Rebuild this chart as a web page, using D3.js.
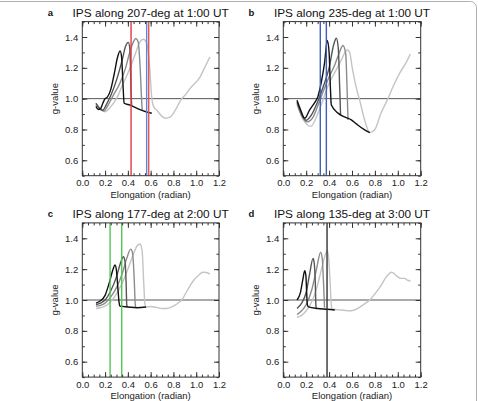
<!DOCTYPE html>
<html><head><meta charset="utf-8">
<script src="https://d3js.org/d3.v7.min.js"></script>
<style>html,body{margin:0;padding:0;background:#fff;}svg{display:block;font-family:"Liberation Sans",Arial,sans-serif;}</style>
</head><body>
<svg id="chart" width="478" height="401"></svg>
<script>
// ---------- data ----------
const xTicks = [0.0, 0.2, 0.4, 0.6, 0.8, 1.0, 1.2];
const yTicks = [0.6, 0.8, 1.0, 1.2, 1.4];
const panelLetters = ["a", "b", "c", "d"];
const panelTitles = ["IPS along 207-deg at 1:00 UT", "IPS along 235-deg at 1:00 UT",
                     "IPS along 177-deg at 2:00 UT", "IPS along 135-deg at 3:00 UT"];
const referenceLevel = 1.0;

// panel a curves [elongation, g]
const pa1 = [[0.12,0.95],[0.14,0.93],[0.16,0.935],[0.18,0.97],[0.2,1.0],[0.22,1.01],[0.25,1.06],[0.28,1.16],[0.31,1.27],[0.332,1.31],[0.345,1.27],[0.358,1.08],[0.367,0.97],[0.42,0.958],[0.49,0.933],[0.58,0.91],[0.61,0.905]];
const pa2 = [[0.12,0.97],[0.15,0.94],[0.18,0.925],[0.21,0.96],[0.25,1.02],[0.3,1.12],[0.35,1.25],[0.38,1.34],[0.404,1.365],[0.418,1.32],[0.428,1.05],[0.433,0.955]];
const pa3 = [[0.12,0.97],[0.16,0.93],[0.19,0.92],[0.22,0.95],[0.27,1.02],[0.33,1.1],[0.38,1.2],[0.42,1.31],[0.45,1.37],[0.47,1.39],[0.49,1.37],[0.508,1.2],[0.52,1.0],[0.526,0.925]];
const pa4 = [[0.12,0.96],[0.16,0.93],[0.2,0.915],[0.24,0.94],[0.3,1.0],[0.36,1.1],[0.42,1.2],[0.47,1.3],[0.5,1.36],[0.536,1.385],[0.565,1.36],[0.59,1.22],[0.608,1.02],[0.625,0.95],[0.66,0.92],[0.7,0.885],[0.73,0.873],[0.77,0.88],[0.82,0.93],[0.873,1.0],[0.9,1.02],[0.95,1.07],[1.033,1.14],[1.08,1.21],[1.12,1.27]];
const paVertical = [0.428, 0.565, 0.583];

// panel b curves
const pb1 = [[0.12,0.99],[0.15,0.93],[0.187,0.873],[0.23,0.927],[0.27,0.97],[0.302,1.013],[0.33,1.1],[0.36,1.23],[0.384,1.377],[0.4,1.3],[0.412,1.06],[0.419,0.96],[0.478,0.906],[0.54,0.88],[0.594,0.862],[0.638,0.836],[0.711,0.797],[0.755,0.78]];
const pb2 = [[0.12,0.98],[0.16,0.9],[0.2,0.86],[0.25,0.9],[0.3,0.98],[0.35,1.08],[0.4,1.2],[0.44,1.35],[0.463,1.392],[0.48,1.33],[0.493,1.06],[0.5,0.9]];
const pb3 = [[0.12,0.97],[0.16,0.89],[0.21,0.85],[0.26,0.88],[0.3,0.95],[0.35,1.05],[0.4,1.14],[0.45,1.22],[0.49,1.3],[0.521,1.345],[0.545,1.29],[0.558,1.04],[0.565,0.862]];
const pb4 = [[0.12,0.96],[0.17,0.87],[0.24,0.82],[0.3,0.9],[0.35,1.0],[0.4,1.1],[0.45,1.17],[0.5,1.24],[0.559,1.316],[0.58,1.3],[0.6,1.21],[0.638,1.07],[0.667,0.99],[0.711,0.86],[0.755,0.78],[0.8,0.8],[0.85,0.9],[0.914,1.0],[0.96,1.08],[1.02,1.17],[1.07,1.23],[1.11,1.29]];
const pbVertical = [0.323, 0.376];

// panel c curves
const pc1 = [[0.12,0.98],[0.15,0.99],[0.2,1.03],[0.24,1.12],[0.27,1.2],[0.287,1.227],[0.3,1.19],[0.312,1.08],[0.322,0.99],[0.33,0.96],[0.4,0.955],[0.48,0.95],[0.56,0.955]];
const pc2 = [[0.12,0.97],[0.16,0.98],[0.2,1.0],[0.25,1.06],[0.3,1.15],[0.34,1.25],[0.36,1.28],[0.375,1.25],[0.385,1.1],[0.39,0.97],[0.395,0.955]];
const pc3 = [[0.12,0.96],[0.16,0.965],[0.2,0.98],[0.25,1.02],[0.3,1.08],[0.35,1.17],[0.39,1.27],[0.425,1.33],[0.44,1.31],[0.455,1.15],[0.465,0.97],[0.47,0.955]];
const pc4 = [[0.12,0.945],[0.16,0.95],[0.2,0.96],[0.25,0.99],[0.3,1.04],[0.35,1.11],[0.4,1.2],[0.45,1.3],[0.48,1.35],[0.507,1.363],[0.525,1.32],[0.54,1.1],[0.55,0.97],[0.56,0.955],[0.6,0.958],[0.65,0.952],[0.7,0.945],[0.74,0.945],[0.8,0.96],[0.85,0.985],[0.873,1.0],[0.92,1.06],[0.97,1.12],[1.02,1.16],[1.06,1.18],[1.09,1.178],[1.12,1.168]];
const pcVertical = [0.244, 0.346];

// panel d curves
const pd1 = [[0.12,1.0],[0.15,1.05],[0.17,1.13],[0.187,1.19],[0.197,1.16],[0.204,1.05],[0.21,0.97],[0.22,0.955],[0.3,0.945],[0.384,0.94],[0.45,0.935]];
const pd2 = [[0.12,0.945],[0.16,0.98],[0.2,1.05],[0.23,1.17],[0.26,1.27],[0.27,1.24],[0.28,1.1],[0.285,0.96],[0.29,0.95]];
const pd3 = [[0.12,0.905],[0.16,0.93],[0.2,0.97],[0.25,1.07],[0.29,1.2],[0.326,1.31],[0.34,1.27],[0.352,1.1],[0.36,0.95]];
const pd4 = [[0.12,0.888],[0.16,0.9],[0.2,0.93],[0.25,0.99],[0.3,1.1],[0.34,1.22],[0.37,1.3],[0.384,1.32],[0.395,1.28],[0.41,1.1],[0.42,0.96],[0.43,0.94],[0.5,0.935],[0.594,0.93],[0.65,0.945],[0.7,0.97],[0.755,1.0],[0.8,1.04],[0.85,1.09],[0.9,1.15],[0.947,1.18],[1.0,1.15],[1.03,1.14],[1.063,1.14],[1.08,1.13],[1.11,1.123]];
const pdVertical = [0.382];

// ---------- layout / style ----------
const curveColors = ["#c4c4c4", "#8c8c8c", "#555555", "#111111"]; // drawn light -> dark
const panels = [
  {curves:[pa4,pa3,pa2,pa1], vlines:paVertical, vcolors:["#de3b44","#6a7fd6","#e0545a"], x0:82.3, x1:219,   y0:21.6,  y1:175.7},
  {curves:[pb4,pb3,pb2,pb1], vlines:pbVertical, vcolors:["#3e5fb8","#3e5fb8"],            x0:283.3, x1:420.7, y0:21.6,  y1:175.7},
  {curves:[pc4,pc3,pc2,pc1], vlines:pcVertical, vcolors:["#55c455","#55c455"],            x0:82.3, x1:219,   y0:222.9, y1:377.1},
  {curves:[pd4,pd3,pd2,pd1], vlines:pdVertical, vcolors:["#333333"],                      x0:283.3, x1:420.7, y0:222.9, y1:377.1}
];

const svg = d3.select("#chart");

svg.append("rect").attr("x", -10).attr("y", 1.5).attr("width", 486.5).attr("height", 420)
  .attr("rx", 6).attr("fill", "none").attr("stroke", "#b0b0b0").attr("stroke-width", 1);

const minorX = d3.range(0, 1.2001, 0.05);
const minorY = d3.range(0.5, 1.5001, 0.1);

panels.forEach((p, i) => {
  const x = d3.scaleLinear().domain([0, 1.2]).range([p.x0, p.x1]);
  const y = d3.scaleLinear().domain([0.5, 1.5]).range([p.y1, p.y0]);
  const g = svg.append("g");
  const clipId = "clip" + i;
  svg.append("clipPath").attr("id", clipId).append("rect")
    .attr("x", p.x0).attr("y", p.y0).attr("width", p.x1 - p.x0).attr("height", p.y1 - p.y0);

  const plot = g.append("g").attr("clip-path", `url(#${clipId})`);
  plot.append("line").attr("x1", x(0)).attr("x2", x(1.2)).attr("y1", y(referenceLevel)).attr("y2", y(referenceLevel))
    .attr("stroke", "#555").attr("stroke-width", 1);

  const line = d3.line().x(d => x(d[0])).y(d => y(d[1])).curve(d3.curveMonotoneX);
  p.curves.forEach((c, k) => {
    plot.append("path").attr("d", line(c)).attr("fill", "none")
      .attr("stroke", curveColors[k]).attr("stroke-width", 1.4).attr("stroke-linejoin", "round");
  });
  p.vlines.forEach((v, k) => {
    plot.append("line").attr("x1", x(v)).attr("x2", x(v)).attr("y1", y(0.5)).attr("y2", y(1.5))
      .attr("stroke", p.vcolors[k]).attr("stroke-width", 1.4);
  });

  const fmt = d3.format(".1f");
  const styleAxis = sel => {
    sel.select(".domain").remove();
    sel.selectAll("line").attr("stroke", "#333");
    sel.selectAll("text").attr("fill", "#222").style("font-size", "9.5px").style("font-family", "'Liberation Sans',Arial,sans-serif");
  };
  g.append("g").attr("transform", `translate(0,${p.y1})`)
    .call(d3.axisBottom(x).tickValues(minorX).tickSize(-2.5).tickFormat("")).call(styleAxis);
  g.append("g").attr("transform", `translate(0,${p.y1})`)
    .call(d3.axisBottom(x).tickValues(xTicks).tickSize(-5).tickPadding(4).tickFormat(fmt)).call(styleAxis);
  g.append("g").attr("transform", `translate(0,${p.y0})`)
    .call(d3.axisTop(x).tickValues(minorX).tickSize(-2.5).tickFormat("")).call(styleAxis);
  g.append("g").attr("transform", `translate(0,${p.y0})`)
    .call(d3.axisTop(x).tickValues(xTicks).tickSize(-5).tickFormat("")).call(styleAxis);
  g.append("g").attr("transform", `translate(${p.x0},0)`)
    .call(d3.axisLeft(y).tickValues(minorY).tickSize(-2.5).tickFormat("")).call(styleAxis);
  g.append("g").attr("transform", `translate(${p.x0},0)`)
    .call(d3.axisLeft(y).tickValues(yTicks).tickSize(-5).tickPadding(4).tickFormat(fmt)).call(styleAxis);
  g.append("g").attr("transform", `translate(${p.x1},0)`)
    .call(d3.axisRight(y).tickValues(minorY).tickSize(-2.5).tickFormat("")).call(styleAxis);
  g.append("g").attr("transform", `translate(${p.x1},0)`)
    .call(d3.axisRight(y).tickValues(yTicks).tickSize(-5).tickFormat("")).call(styleAxis);

  g.append("rect").attr("x", p.x0).attr("y", p.y0).attr("width", p.x1 - p.x0).attr("height", p.y1 - p.y0)
    .attr("fill", "none").attr("stroke", "#333").attr("stroke-width", 1);

  const cx = (p.x0 + p.x1) / 2;
  g.append("text").attr("x", cx).attr("y", p.y1 + 22).attr("text-anchor", "middle")
    .style("font-size", "9.5px").attr("fill", "#222").text("Elongation (radian)");
  g.append("text").attr("transform", `translate(${p.x0 - 24},${(p.y0 + p.y1) / 2}) rotate(-90)`)
    .attr("text-anchor", "middle").style("font-size", "9.5px").attr("fill", "#222").text("g-value");
  g.append("text").attr("x", cx).attr("y", p.y0 - 5).attr("text-anchor", "middle")
    .style("font-size", "11.8px").attr("fill", "#111").text(panelTitles[i]);
  g.append("text").attr("x", p.x0 - 32).attr("y", p.y0 - 6).attr("text-anchor", "middle")
    .style("font-size", "9.5px").style("font-weight", "bold").attr("fill", "#111").text(panelLetters[i]);
});
</script>
</body></html>
